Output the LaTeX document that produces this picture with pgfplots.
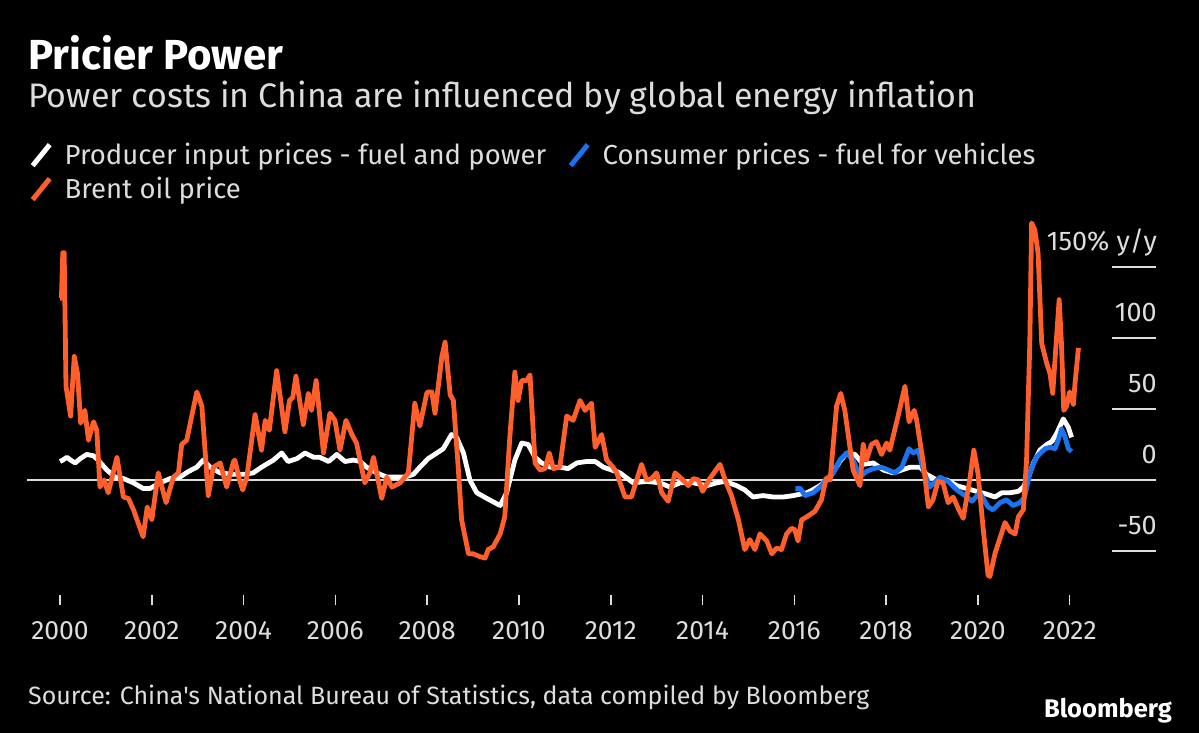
\documentclass[border=0pt]{standalone}
\usepackage{fontspec}
\setmainfont{Fira Sans}[Ligatures=TeXOff]
\usepackage{pgfplots}
\pgfplotsset{compat=1.18}
\definecolor{orangeL}{HTML}{FF5F2A}
\definecolor{blueL}{HTML}{1A73F0}
\definecolor{txt}{HTML}{DDDDDD}
\begin{document}
\begin{tikzpicture}[x=1pt,y=1pt]
\fill[black] (0,0) rectangle (1199,733);
\path[use as bounding box] (0,0) rectangle (1199,733);
\node[anchor=base west, text=white, font=\bfseries\fontsize{42}{47}\selectfont, inner sep=0] at (28,663) {Pricier Power};
\node[anchor=base west, text=txt, font=\fontsize{34}{40}\selectfont, inner sep=0] at (28,625) {Power costs in China are influenced by global energy inflation};
\node[anchor=base west, text=txt, font=\fontsize{25}{30}\selectfont, inner sep=0] at (28,28) {Source: China's National Bureau of Statistics, data compiled by Bloomberg};
\node[anchor=base east, text=white, font=\bfseries\fontsize{25.5}{30}\selectfont, inner sep=0] at (1172,15) {Bloomberg};
\begin{axis}[at={(27pt,138pt)}, anchor=south west, width=1129pt, height=380pt, scale only axis,
  xmin=1999.28, xmax=2023.88, ymin=-81, ymax=186.6,
  axis line style={draw=none}, clip=false,
  /pgf/number format/assume math mode=true,
  xtick={2000,2002,...,2022},
  xticklabel style={/pgf/number format/1000 sep={}, text=txt, font=\fontsize{26.5}{30}\selectfont, yshift=-13pt},
  xtick pos=bottom, tick align=outside, major tick length=10pt,
  xtick style={draw=txt, line width=1.5pt},
  ytick={-50,0,50,100,150}, yticklabels={-50,0,50,100,150\% y/y},
  ytick pos=right, ytick style={draw=none},
  yticklabel style={anchor=base east, inner sep=0pt, text=txt, font=\fontsize{27}{31}\selectfont, yshift=16pt, xshift=-9pt},
  legend columns=2, legend cell align=left,
  legend image code/.code={\draw[#1, line width=5pt] (-4pt,-11pt) -- (13pt,10pt); \path[draw=none, fill=none] (0pt,0pt) -- (26pt,0pt);},
  legend style={at={(axis description cs:0,1.2)}, anchor=north west, draw=none, fill=none,
     text=txt, font=\fontsize{27.5}{32}\selectfont, row sep=7pt,
     /tikz/every even column/.append style={column sep=20pt}},
]
\draw[txt, line width=1.5pt] (axis cs:1999.28,0) -- (axis cs:2023.88,0);
\draw[txt, line width=1.5pt] (axis cs:2022.92,-50) -- (axis cs:2023.88,-50);
\draw[txt, line width=1.5pt] (axis cs:2022.92,50) -- (axis cs:2023.88,50);
\draw[txt, line width=1.5pt] (axis cs:2022.92,100) -- (axis cs:2023.88,100);
\draw[txt, line width=1.5pt] (axis cs:2022.92,150) -- (axis cs:2023.88,150);
\addplot[white, line width=4.8pt, line join=round] coordinates {
(2000.00,13)(2000.06,14)(2000.15,16)(2000.23,14)(2000.33,12)(2000.44,15)(2000.58,18)(2000.73,17)(2000.83,14)
(2001.02,7)(2001.20,2)(2001.38,1)(2001.60,-2)(2001.81,-6)(2001.96,-6)(2002.18,-2)(2002.40,1)(2002.61,2)(2002.80,6)
(2002.98,9)(2003.12,14)(2003.27,9)(2003.49,5)(2003.74,4)(2004.03,4)(2004.21,5)(2004.39,9)(2004.65,14)(2004.83,19)
(2004.97,13)(2005.16,15)(2005.34,19)(2005.52,16)(2005.66,16)(2005.85,13)(2006.03,18)(2006.21,13)(2006.39,14)(2006.54,13)
(2006.68,9)(2006.90,5)(2007.12,2)(2007.34,2)(2007.52,2)(2007.70,4)(2007.84,9)(2008.02,15)(2008.21,19)(2008.35,22)
(2008.53,32)(2008.64,30)(2008.79,19)(2008.93,0)(2009.08,-9)(2009.30,-13)(2009.59,-18)(2009.73,-9)(2009.91,14)(2010.06,26)
(2010.20,25)(2010.35,16)(2010.49,12)(2010.68,9)(2010.89,9)(2011.07,8)(2011.26,12)(2011.47,13)(2011.66,13)(2011.84,9)
(2012.02,7)(2012.20,5)(2012.49,-2)(2012.78,-1)(2013.07,-2)(2013.29,-5)(2013.51,-2)(2013.80,-2)(2014.09,-4)(2014.31,-2)
(2014.49,-1)(2014.74,-4)(2014.92,-7)(2015.10,-12)(2015.32,-11)(2015.54,-12)(2015.76,-12)(2015.98,-11)(2016.27,-9)(2016.34,-8)
(2016.56,-4)(2016.78,2)(2016.99,13)(2017.14,19)(2017.32,18)(2017.50,11)(2017.72,12)(2017.94,7)(2018.15,5)(2018.34,7)
(2018.52,9)(2018.74,9)(2018.88,4)(2019.10,0)(2019.32,0)(2019.54,-4)(2019.75,-6)(2019.97,-8)(2020.19,-10)(2020.37,-12)
(2020.52,-9)(2020.70,-9)(2020.88,-8)(2020.99,-5)(2021.10,2)(2021.21,12)(2021.35,21)(2021.50,25)(2021.61,27)(2021.72,33)
(2021.86,43)(2021.97,37)(2022.04,30)
};
\addlegendentry{Producer input prices - fuel and power}
\addplot[blueL, line width=4.8pt, line join=round] coordinates {
(2016.02,-6)(2016.13,-6)(2016.23,-11)(2016.41,-9)(2016.59,-4)(2016.70,1)(2016.85,5)(2016.99,14)(2017.14,19)(2017.28,14)
(2017.43,2)(2017.57,6)(2017.72,8)(2017.90,9)(2018.05,7)(2018.19,5)(2018.34,9)(2018.50,22)(2018.59,19)(2018.70,21)
(2018.81,7)(2018.95,-5)(2019.17,2)(2019.35,-1)(2019.54,-7)(2019.72,-11)(2019.87,-15)(2020.04,-9)(2020.22,-19)(2020.33,-21)
(2020.48,-16)(2020.62,-14)(2020.77,-18)(2020.91,-16)(2021.02,-12)(2021.13,5)(2021.27,16)(2021.46,22)(2021.57,23)(2021.68,22)
(2021.75,28)(2021.82,36)(2021.90,30)(2021.97,22)(2022.04,20)
};
\addlegendentry{Consumer prices - fuel for vehicles}
\addplot[orangeL, line width=4.8pt, line join=round] coordinates {
(2000.00,128)(2000.03,128)(2000.06,160)(2000.09,160)(2000.13,66)(2000.23,45)(2000.31,87)(2000.38,75)(2000.45,40)(2000.54,49)
(2000.62,28)(2000.73,41)(2000.80,35)(2000.87,-5)(2000.96,0)(2001.05,-9)(2001.24,16)(2001.38,-12)(2001.49,-13)(2001.60,-21)
(2001.81,-40)(2001.90,-19)(2002.00,-28)(2002.14,5)(2002.31,-16)(2002.47,2)(2002.58,5)(2002.65,25)(2002.76,28)(2002.98,62)
(2003.09,52)(2003.23,-11)(2003.34,9)(2003.49,12)(2003.63,-5)(2003.78,13)(2003.81,14)(2003.91,0)(2003.98,-7)(2004.07,2)
(2004.25,46)(2004.39,21)(2004.47,42)(2004.56,35)(2004.72,77)(2004.90,34)(2005.00,56)(2005.07,58)(2005.14,73)(2005.30,39)
(2005.41,61)(2005.48,49)(2005.58,70)(2005.74,19)(2005.88,47)(2005.99,42)(2006.10,21)(2006.23,42)(2006.36,32)(2006.46,26)
(2006.64,-2)(2006.75,5)(2006.83,16)(2007.01,-13)(2007.12,2)(2007.23,-5)(2007.41,-2)(2007.59,5)(2007.73,54)(2007.84,38)
(2007.99,61)(2008.02,62)(2008.10,62)(2008.17,47)(2008.32,87)(2008.39,97)(2008.50,60)(2008.57,56)(2008.68,7)(2008.75,-28)
(2008.90,-52)(2009.00,-52)(2009.15,-54)(2009.26,-55)(2009.33,-49)(2009.44,-47)(2009.59,-38)(2009.69,-26)(2009.80,30)(2009.91,76)
(2009.98,56)(2010.06,70)(2010.17,70)(2010.24,74)(2010.35,12)(2010.46,7)(2010.57,8)(2010.66,19)(2010.75,8)(2010.89,9)
(2011.04,45)(2011.18,42)(2011.33,56)(2011.44,49)(2011.58,54)(2011.66,23)(2011.80,32)(2011.91,14)(2012.05,9)(2012.13,5)
(2012.31,-12)(2012.45,-12)(2012.67,11)(2012.78,0)(2012.89,1)(2013.00,5)(2013.11,-9)(2013.25,-15)(2013.40,5)(2013.54,1)
(2013.69,-4)(2013.80,1)(2013.91,0)(2014.00,-8)(2014.16,1)(2014.38,11)(2014.49,0)(2014.63,-11)(2014.78,-28)(2014.92,-49)
(2015.03,-42)(2015.14,-49)(2015.25,-38)(2015.40,-43)(2015.51,-52)(2015.61,-48)(2015.72,-49)(2015.83,-38)(2015.94,-34)(2016.01,-35)
(2016.08,-43)(2016.16,-28)(2016.27,-26)(2016.45,-22)(2016.59,-14)(2016.69,1)(2016.78,0)(2016.92,52)(2017.01,61)(2017.10,49)
(2017.28,7)(2017.43,-4)(2017.50,25)(2017.57,14)(2017.68,25)(2017.79,27)(2017.90,18)(2018.01,26)(2018.08,21)(2018.26,45)
(2018.41,66)(2018.50,41)(2018.61,49)(2018.66,43)(2018.81,12)(2018.92,-19)(2019.02,-14)(2019.13,-1)(2019.24,-2)(2019.35,-16)
(2019.46,-12)(2019.57,-20)(2019.68,-27)(2019.83,2)(2019.91,21)(2020.00,5)(2020.11,-33)(2020.22,-67)(2020.26,-68)(2020.37,-52)
(2020.48,-41)(2020.59,-30)(2020.70,-36)(2020.81,-38)(2020.88,-26)(2020.99,-21)(2021.06,14)(2021.13,96)(2021.17,181)(2021.24,176)
(2021.31,160)(2021.39,96)(2021.50,82)(2021.57,75)(2021.63,61)(2021.68,85)(2021.77,127)(2021.82,96)(2021.87,49)(2021.93,52)
(2022.00,62)(2022.08,53)(2022.11,66)(2022.19,93)
};
\addlegendentry{Brent oil price}
\end{axis}
\end{tikzpicture}
\end{document}
